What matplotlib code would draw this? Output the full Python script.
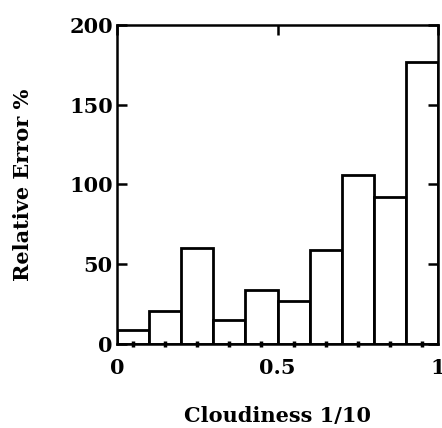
import numpy as np
import matplotlib
matplotlib.use("Agg")
import matplotlib.pyplot as plt

# cloudiness bins (left edges) and relative error per bin
bin_left = [0.0, 0.1, 0.2, 0.3, 0.4, 0.5, 0.6, 0.7, 0.8, 0.9]
rel_error = [9, 21, 60, 15, 34, 27, 59, 106, 92, 177]
bin_width = 0.1

plt.rcParams['font.family'] = ['DejaVu Serif']
plt.rcParams['font.weight'] = 'bold'
plt.rcParams['axes.labelweight'] = 'bold'

fig = plt.figure(figsize=(4.42, 4.28), dpi=100)
ax = fig.add_axes([117/442, 1 - 344/428, 321/442, 319/428])

ax.bar(bin_left, rel_error, width=bin_width, align='edge',
       facecolor='white', edgecolor='black', linewidth=2.0)

ax.set_xlim(0, 1)
ax.set_ylim(0, 200)
ax.set_xticks([0, 0.5, 1])
ax.set_xticklabels(['0', '0.5', '1'])
ax.set_yticks([0, 50, 100, 150, 200])

centers = np.array(bin_left) + bin_width / 2
ax.set_xticks(centers, minor=True)

ax.tick_params(axis='y', which='major', direction='in', length=7, width=1.8,
               left=True, right=True, labelsize=15, pad=3)
ax.tick_params(axis='x', which='major', direction='in', length=7, width=1.8,
               bottom=False, top=True, labelsize=15, pad=10)
ax.tick_params(axis='x', which='minor', direction='inout', length=5, width=2.5,
               bottom=True, top=False)

for s in ax.spines.values():
    s.set_linewidth(1.8)

ax.set_ylabel('Relative Error %', fontsize=15, labelpad=26)
ax.set_xlabel('Cloudiness 1/10', fontsize=15, labelpad=20)

fig.savefig('out.png', dpi=100, facecolor='white')
